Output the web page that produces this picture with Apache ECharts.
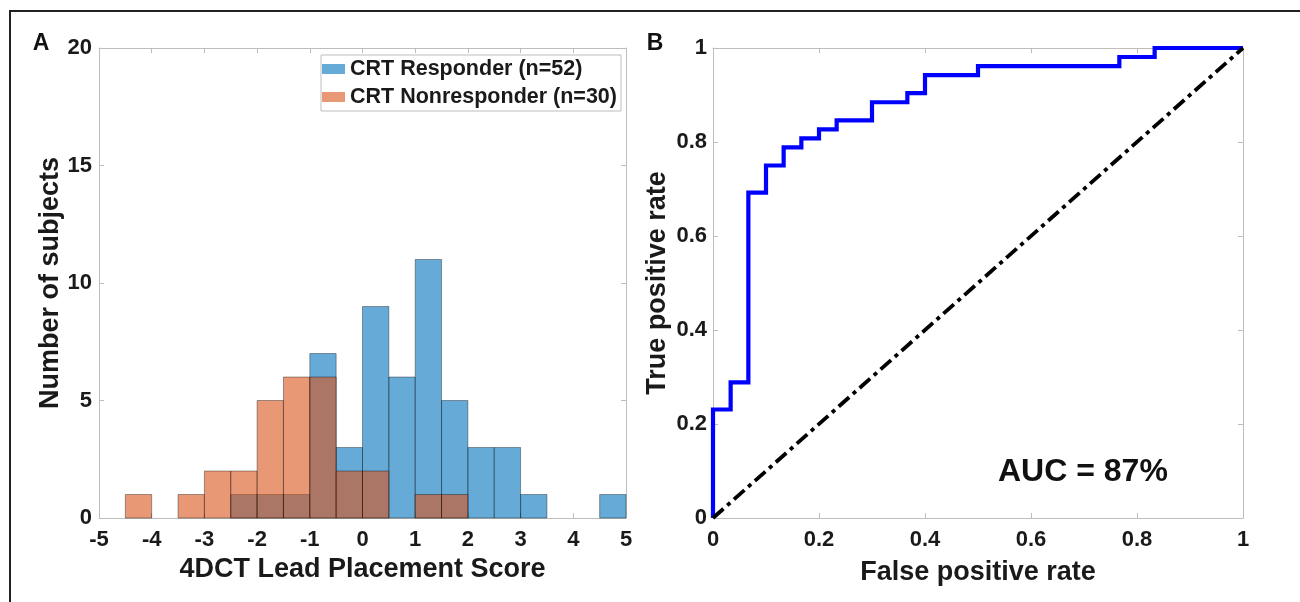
<!DOCTYPE html>
<html>
<head>
<meta charset="utf-8">
<script src="https://cdn.jsdelivr.net/npm/echarts@6/dist/echarts.min.js"></script>
<style>
  html, body { margin: 0; padding: 0; background: #fff; }
  #main { width: 1300px; height: 602px; }
</style>
</head>
<body>
<div id="main"></div>
<script>
// panel A: histogram bins (0.5 wide) and counts per group
var binStarts = [-5, -4.5, -4, -3.5, -3, -2.5, -2, -1.5, -1, -0.5, 0, 0.5, 1, 1.5, 2, 2.5, 3, 3.5, 4, 4.5];
var binEnds   = [-4.5, -4, -3.5, -3, -2.5, -2, -1.5, -1, -0.5, 0, 0.5, 1, 1.5, 2, 2.5, 3, 3.5, 4, 4.5, 5];
var responderCounts    = [0, 0, 0, 0, 0, 1, 1, 1, 7, 3, 9, 6, 11, 5, 3, 3, 1, 0, 0, 1];
var nonresponderCounts = [0, 1, 0, 1, 2, 2, 5, 6, 6, 2, 2, 0, 1, 1, 0, 0, 0, 0, 0, 0];

// panel B: ROC curve corners
var rocFpr = [0, 0, 0.0333, 0.0333, 0.0667, 0.0667, 0.1, 0.1, 0.1333, 0.1333, 0.1667, 0.1667, 0.2, 0.2,
              0.2333, 0.2333, 0.3, 0.3, 0.3667, 0.3667, 0.4, 0.4, 0.5, 0.5, 0.7667, 0.7667, 0.8333, 0.8333, 1];
var rocTpr = [0, 0.2308, 0.2308, 0.2885, 0.2885, 0.6923, 0.6923, 0.75, 0.75, 0.7885, 0.7885, 0.8077, 0.8077, 0.8269,
              0.8269, 0.8462, 0.8462, 0.8846, 0.8846, 0.9038, 0.9038, 0.9423, 0.9423, 0.9615, 0.9615, 0.9808, 0.9808, 1, 1];
var chanceX = [0, 1];
var chanceY = [0, 1];

var FONT = '"Liberation Sans", Arial, Helvetica, sans-serif';
var TXT = '#1a1a1a';
var AXC = '#bdbdbd';

function histRows(counts) {
    return counts.map(function (c, i) { return [binStarts[i], binEnds[i], c]; });
}
function rocRows(xs, ys) {
    return xs.map(function (x, i) { return [x, ys[i]]; });
}

function histRender(fill) {
    return function (params, api) {
        var n = api.value(2);
        if (!n) return null;
        var p0 = api.coord([api.value(0), n]);
        var p1 = api.coord([api.value(1), 0]);
        return {
            type: 'rect',
            shape: { x: p0[0], y: p0[1], width: p1[0] - p0[0], height: p1[1] - p0[1] },
            style: { fill: fill, stroke: 'rgba(0,0,0,0.45)', lineWidth: 0.8 }
        };
    };
}

function baseAxis(extra) {
    var a = {
        type: 'value',
        axisLine: { show: true, onZero: false, lineStyle: { color: AXC, width: 1 } },
        axisTick: { show: true, inside: true, length: 5, lineStyle: { color: AXC } },
        splitLine: { show: false },
        axisLabel: { show: true, color: TXT, fontFamily: FONT, fontWeight: 'bold', fontSize: 22 },
        nameTextStyle: { color: TXT, fontFamily: FONT, fontWeight: 'bold', fontSize: 27 }
    };
    for (var k in extra) a[k] = extra[k];
    return a;
}

var myChart = echarts.init(document.getElementById('main'));
var option = {
    backgroundColor: '#fff',
    animation: false,
    grid: [
        { left: 99, right: 674, top: 48, bottom: 84 },
        { left: 713, right: 57, top: 48, bottom: 84 }
    ],
    xAxis: [
        baseAxis({ gridIndex: 0, min: -5, max: 5, interval: 1, position: 'bottom',
            name: '4DCT Lead Placement Score', nameLocation: 'middle', nameGap: 38,
            axisLabel: { color: TXT, fontFamily: FONT, fontWeight: 'bold', fontSize: 22, margin: 11 } }),
        baseAxis({ gridIndex: 0, min: -5, max: 5, interval: 1, position: 'top', axisLabel: { show: false } }),
        baseAxis({ gridIndex: 1, min: 0, max: 1, interval: 0.2, position: 'bottom',
            name: 'False positive rate', nameLocation: 'middle', nameGap: 41,
            axisLabel: { color: TXT, fontFamily: FONT, fontWeight: 'bold', fontSize: 22, margin: 11 } }),
        baseAxis({ gridIndex: 1, min: 0, max: 1, interval: 0.2, position: 'top', axisLabel: { show: false } })
    ],
    yAxis: [
        baseAxis({ gridIndex: 0, min: 0, max: 20, interval: 5, position: 'left',
            name: 'Number of subjects', nameLocation: 'middle', nameGap: 28,
            axisLabel: { color: TXT, fontFamily: FONT, fontWeight: 'bold', fontSize: 22, margin: 7 } }),
        baseAxis({ gridIndex: 0, min: 0, max: 20, interval: 5, position: 'right', axisLabel: { show: false } }),
        baseAxis({ gridIndex: 1, min: 0, max: 1, interval: 0.2, position: 'left',
            name: 'True positive rate', nameLocation: 'middle', nameGap: 42,
            axisLabel: { color: TXT, fontFamily: FONT, fontWeight: 'bold', fontSize: 22, margin: 6 } }),
        baseAxis({ gridIndex: 1, min: 0, max: 1, interval: 0.2, position: 'right', axisLabel: { show: false } })
    ],
    legend: {
        data: ['CRT Responder (n=52)', 'CRT Nonresponder (n=30)'],
        orient: 'vertical',
        left: 321, top: 55,
        icon: 'rect',
        itemWidth: 23, itemHeight: 10, itemGap: 6,
        padding: [3, 4, 3, 1],
        borderColor: AXC, borderWidth: 1,
        backgroundColor: '#fff',
        selectedMode: false,
        textStyle: { color: TXT, fontFamily: FONT, fontWeight: 'bold', fontSize: 21.5 }
    },
    series: [
        {
            name: 'CRT Responder (n=52)', type: 'custom',
            xAxisIndex: 0, yAxisIndex: 0,
            itemStyle: { color: 'rgba(0,114,189,0.6)' },
            renderItem: histRender('rgba(0,114,189,0.6)'),
            encode: { x: [0, 1], y: 2 },
            data: histRows(responderCounts)
        },
        {
            name: 'CRT Nonresponder (n=30)', type: 'custom',
            xAxisIndex: 0, yAxisIndex: 0,
            itemStyle: { color: 'rgba(217,83,25,0.6)' },
            renderItem: histRender('rgba(217,83,25,0.6)'),
            encode: { x: [0, 1], y: 2 },
            data: histRows(nonresponderCounts)
        },
        {
            name: 'ROC', type: 'line',
            xAxisIndex: 2, yAxisIndex: 2,
            showSymbol: false, clip: false,
            lineStyle: { color: '#0000ff', width: 4.2, join: 'miter' },
            data: rocRows(rocFpr, rocTpr)
        },
        {
            name: 'Chance', type: 'line',
            xAxisIndex: 2, yAxisIndex: 2,
            showSymbol: false, clip: false,
            lineStyle: { color: '#000', width: 3.8, type: [14, 5, 4, 5] },
            data: rocRows(chanceX, chanceY)
        }
    ],
    graphic: [
        { type: 'rect', shape: { x: 10, y: 11, width: 1400, height: 800 },
          style: { fill: null, stroke: '#222', lineWidth: 2 }, silent: true, z: -1 },
        { type: 'text', x: 41, y: 44,
          style: { text: 'A', fill: '#111', font: 'bold 23px ' + FONT, textAlign: 'center', textVerticalAlign: 'middle' } },
        { type: 'text', x: 655, y: 44,
          style: { text: 'B', fill: '#111', font: 'bold 23px ' + FONT, textAlign: 'center', textVerticalAlign: 'middle' } },
        { type: 'text', x: 998, y: 472,
          style: { text: 'AUC = 87%', fill: '#111', font: 'bold 32px ' + FONT, textAlign: 'left', textVerticalAlign: 'middle' } }
    ]
};
myChart.setOption(option);

window.onresize = function () {
    myChart.resize();
};
</script>
</body>
</html>
